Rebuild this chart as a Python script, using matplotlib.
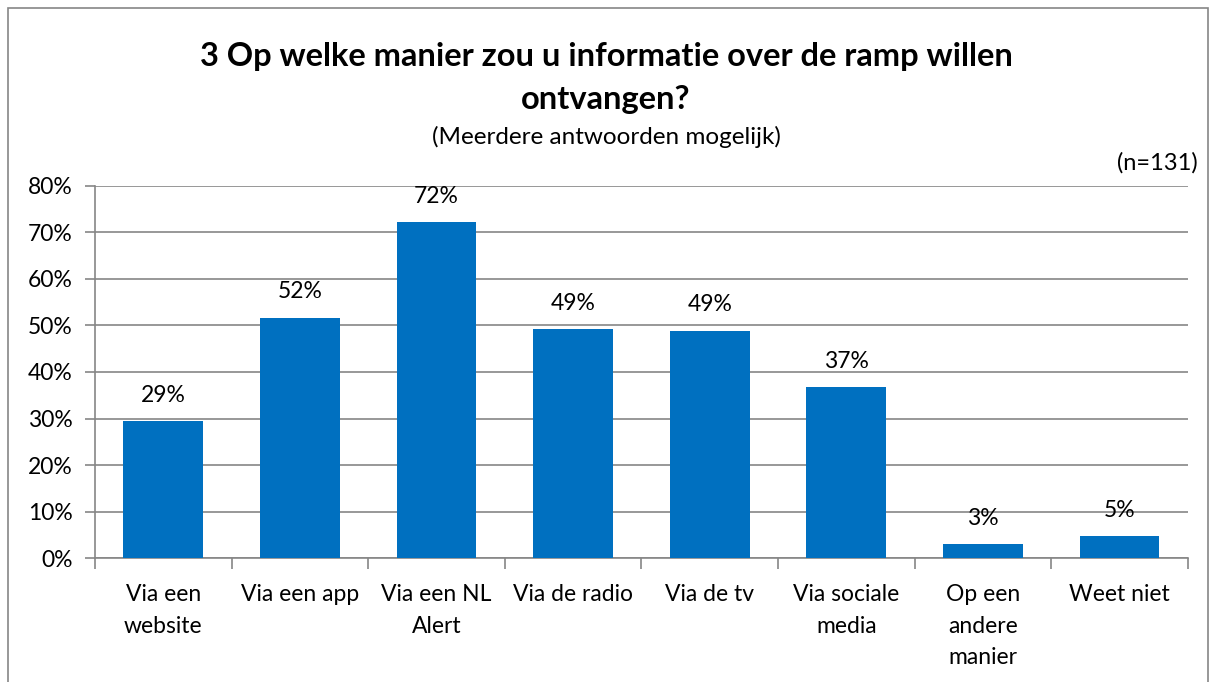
import matplotlib.pyplot as plt
from matplotlib.patches import Rectangle

plt.rcParams['font.family'] = ['Lato', 'DejaVu Sans']

categories = ['Via een\nwebsite', 'Via een app', 'Via een NL\nAlert', 'Via de radio',
              'Via de tv', 'Via sociale\nmedia', 'Op een\nandere\nmanier', 'Weet niet']
values = [29.5, 51.7, 72.3, 49.2, 48.9, 36.8, 3.0, 4.7]
labels = ['29%', '52%', '72%', '49%', '49%', '37%', '3%', '5%']
yticks = [0, 10, 20, 30, 40, 50, 60, 70, 80]

fig = plt.figure(figsize=(12.12, 6.82), dpi=100)
ax = fig.add_axes([0.0784, 0.1818, 0.9016, 0.5455])

x = list(range(len(categories)))
ax.bar(x, values, width=0.585, color='#0070C0', zorder=3)
for xi, v, lab in zip(x, values, labels):
    ax.annotate(lab, (xi, v), xytext=(0, 11), textcoords='offset points',
                ha='center', va='bottom', fontsize=16.5, color='#000000')

ax.set_xlim(-0.5, len(categories) - 0.5)
ax.set_ylim(0, 80)
ax.set_yticks(yticks)
ax.set_yticklabels([f'{t}%' for t in yticks], fontsize=16.5)
ax.yaxis.grid(True, color='#868686', linewidth=1.2, zorder=0)
ax.tick_params(axis='y', length=7, color='#868686', width=1.2, pad=9)

ax.set_xticks(x)
ax.set_xticklabels(categories, fontsize=16.5, linespacing=1.62, va='top')
ax.tick_params(axis='x', which='major', length=0, pad=19)
ax.set_xticks([i - 0.5 for i in range(len(categories) + 1)], minor=True)
ax.tick_params(axis='x', which='minor', length=8, color='#868686', width=1.2)

for s in ['top', 'right']:
    ax.spines[s].set_visible(False)
for s in ['left', 'bottom']:
    ax.spines[s].set_color('#868686')
    ax.spines[s].set_linewidth(1.2)

fig.text(0.5, 0.917, '3 Op welke manier zou u informatie over de ramp willen',
         ha='center', va='center', fontsize=23.5, fontweight='bold')
fig.text(0.5, 0.854, 'ontvangen?', ha='center', va='center', fontsize=23.5, fontweight='bold')
fig.text(0.5, 0.799, '(Meerdere antwoorden mogelijk)', ha='center', va='center', fontsize=17.5)
fig.text(0.988, 0.761, '(n=131)', ha='right', va='center', fontsize=17)

fig.patches.append(Rectangle((0.0066, -0.01), 0.99, 0.998, transform=fig.transFigure,
                             fill=False, edgecolor='#868686', linewidth=1.2))

fig.savefig('out.png', dpi=100)
